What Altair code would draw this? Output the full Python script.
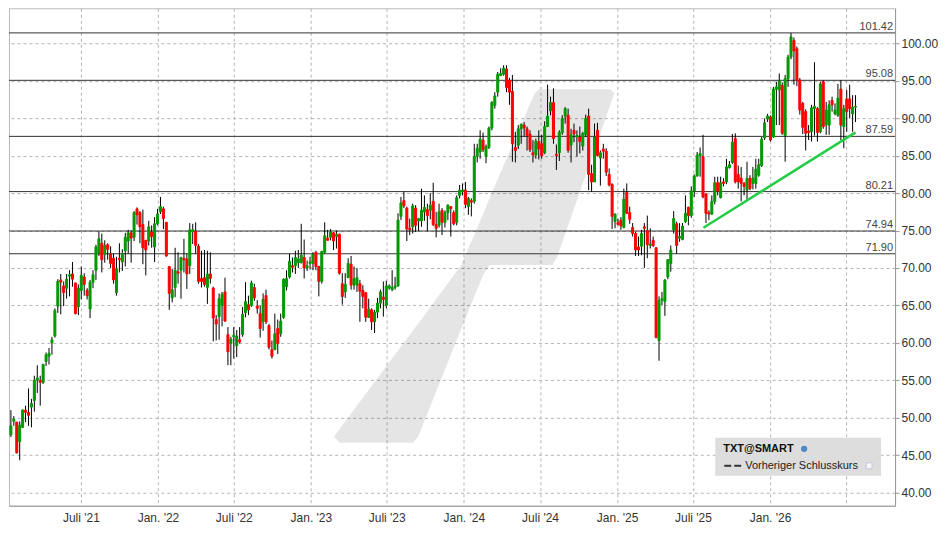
import altair as alt
import pandas as pd
import numpy as np

# ---------------- data (weekly OHLC) ----------------
n_weeks = 290
first_week = "2021-01-08"

opens = [
    48.3, 47.7, 49.5, 49.4, 46.8, 48.7, 51.0, 50.7, 51.4, 52.3,
    55.0, 55.0, 54.7, 57.5, 58.2, 60.0, 60.9, 64.9, 68.4, 67.6,
    67.3, 68.9, 69.2, 68.0, 64.8, 67.0, 68.8, 67.0, 64.5, 68.1,
    69.7, 72.0, 73.3, 71.8, 73.1, 71.9, 71.3, 66.7, 71.3, 70.8,
    72.3, 73.6, 74.7, 74.1, 77.9, 77.4, 75.8, 73.7, 73.6, 74.8,
    72.8, 75.9, 77.5, 77.9, 76.1, 70.2, 66.0, 67.4, 69.5, 69.7,
    71.3, 71.2, 70.3, 74.9, 74.9, 72.9, 68.6, 68.7, 67.4, 69.2,
    67.3, 63.1, 63.5, 65.0, 66.8, 61.1, 59.9, 60.8, 59.6, 60.4,
    61.1, 64.0, 65.1, 65.0, 67.4, 64.9, 63.9, 62.8, 66.3, 62.3,
    59.1, 59.1, 61.9, 61.2, 63.4, 67.5, 68.8, 70.3, 70.3, 70.7,
    70.7, 71.4, 70.0, 70.6, 70.6, 72.1, 70.2, 68.2, 72.1, 74.0,
    74.1, 74.7, 74.2, 74.5, 67.9, 66.8, 68.7, 70.5, 67.7, 67.7,
    67.9, 67.0, 66.7, 63.4, 64.4, 62.8, 64.1, 65.3, 66.1, 65.0,
    67.3, 67.1, 67.4, 67.6, 76.9, 79.0, 78.0, 75.3, 75.5, 78.0,
    76.3, 76.3, 77.5, 77.8, 77.7, 78.9, 75.8, 75.7, 77.7, 76.1,
    77.4, 78.2, 77.4, 76.1, 79.7, 80.2, 80.4, 78.2, 79.0, 78.9,
    84.9, 85.5, 87.1, 84.9, 86.1, 88.7, 91.7, 93.5, 95.7, 95.9,
    96.6, 95.1, 93.6, 86.1, 86.4, 88.6, 89.1, 88.6, 87.9, 85.4,
    85.1, 86.9, 86.6, 85.4, 88.9, 91.0, 92.1, 85.2, 85.4, 88.1,
    90.3, 90.4, 86.4, 88.4, 87.5, 87.5, 86.3, 87.8, 90.3, 82.6,
    81.5, 88.4, 84.7, 85.9, 85.6, 82.5, 81.2, 76.2, 76.1, 76.4,
    75.4, 80.1, 77.4, 75.4, 74.6, 72.8, 72.9, 75.5, 75.0, 73.0,
    73.7, 72.7, 60.3, 65.7, 65.5, 68.8, 70.6, 75.1, 75.9, 74.0,
    73.8, 76.2, 78.1, 77.0, 80.3, 82.3, 85.0, 84.9, 79.9, 77.4,
    77.2, 78.9, 81.4, 79.4, 81.5, 81.5, 83.4, 84.1, 87.3, 82.5,
    82.0, 81.3, 80.4, 82.0, 81.3, 81.3, 82.4, 83.7, 87.4, 89.9,
    90.2, 87.5, 93.9, 93.8, 94.4, 87.7, 95.3, 98.2, 100.4, 99.3,
    95.1, 92.0, 90.9, 88.3, 88.2, 91.3, 91.3, 88.2, 94.9, 89.1,
    89.1, 92.4, 90.6, 90.4, 93.9, 88.9, 92.6, 92.6, 90.6, 91.5,
]
highs = [
    49.0, 51.0, 50.2, 49.4, 49.5, 51.1, 51.6, 53.9, 52.5, 55.6,
    57.0, 55.6, 57.2, 58.7, 59.3, 60.8, 64.6, 68.5, 69.2, 68.2,
    69.2, 69.7, 70.8, 68.0, 67.8, 70.2, 69.3, 67.3, 68.4, 69.7,
    73.1, 74.9, 74.6, 73.7, 73.3, 72.9, 71.9, 71.5, 73.3, 72.5,
    74.7, 75.1, 75.0, 77.6, 78.1, 77.6, 77.8, 73.7, 76.3, 75.7,
    76.8, 77.9, 79.5, 78.2, 76.1, 70.2, 69.9, 72.7, 72.1, 71.5,
    73.9, 71.9, 76.0, 75.9, 76.1, 73.2, 72.3, 72.4, 72.3, 72.1,
    67.5, 63.7, 66.6, 66.8, 68.7, 62.1, 60.8, 62.1, 61.7, 62.1,
    64.8, 68.1, 66.3, 68.3, 67.9, 65.7, 65.0, 66.6, 67.1, 62.5,
    60.3, 63.9, 63.1, 63.9, 68.6, 69.7, 71.9, 71.4, 72.3, 72.4,
    75.9, 73.8, 71.0, 71.5, 72.1, 72.3, 70.3, 72.3, 76.1, 75.1,
    75.2, 74.8, 75.0, 74.6, 69.3, 69.3, 71.3, 71.6, 70.2, 70.0,
    68.4, 67.7, 66.8, 65.9, 64.6, 64.4, 66.0, 67.1, 68.2, 68.3,
    67.8, 69.7, 68.8, 77.3, 79.5, 80.2, 78.2, 76.6, 78.6, 78.4,
    76.7, 80.6, 79.7, 78.6, 80.0, 81.4, 77.5, 78.6, 78.0, 77.7,
    78.5, 78.2, 77.7, 79.7, 81.1, 81.3, 81.5, 79.5, 79.3, 86.6,
    86.6, 88.4, 88.1, 86.5, 88.9, 92.3, 93.5, 96.2, 96.7, 97.1,
    97.1, 95.4, 95.8, 88.2, 89.1, 89.3, 89.5, 88.9, 88.4, 87.1,
    87.3, 88.4, 87.8, 89.6, 94.5, 92.9, 94.0, 86.5, 88.4, 90.4,
    91.5, 91.3, 88.6, 89.3, 88.4, 88.9, 88.2, 90.5, 91.3, 83.8,
    89.3, 89.4, 85.7, 86.6, 86.0, 83.3, 81.3, 77.3, 76.6, 76.8,
    80.6, 81.3, 78.2, 76.0, 74.8, 74.2, 75.1, 76.0, 77.0, 75.3,
    74.2, 72.8, 66.2, 66.8, 68.5, 71.2, 73.0, 77.6, 76.2, 76.0,
    76.0, 79.7, 78.2, 80.9, 82.5, 85.5, 86.1, 87.8, 80.0, 77.7,
    79.7, 82.2, 82.2, 82.2, 82.0, 84.6, 84.3, 87.9, 88.0, 83.7,
    83.5, 81.5, 84.2, 82.4, 83.5, 84.6, 84.6, 87.5, 90.0, 90.6,
    90.4, 94.2, 94.9, 96.0, 94.8, 95.8, 98.5, 101.42, 100.8, 99.6,
    95.4, 92.2, 91.2, 89.1, 91.8, 97.5, 91.5, 94.9, 95.1, 92.2,
    92.4, 92.9, 92.0, 94.6, 95.1, 91.8, 93.8, 94.5, 93.1, 93.1,
]
lows = [
    46.0, 47.4, 48.9, 45.2, 44.3, 48.6, 49.4, 48.9, 48.7, 50.8,
    53.3, 51.6, 54.5, 56.9, 57.1, 58.4, 60.7, 64.0, 63.8, 64.9,
    65.9, 66.2, 67.5, 63.8, 63.7, 65.8, 66.3, 65.8, 63.3, 67.3,
    68.4, 71.6, 69.4, 70.7, 71.1, 70.0, 67.9, 66.3, 69.4, 69.6,
    70.2, 71.9, 70.7, 73.6, 75.8, 73.3, 70.5, 69.0, 73.0, 72.7,
    70.8, 75.7, 77.2, 75.2, 71.5, 64.4, 65.4, 66.1, 67.9, 65.9,
    69.4, 67.2, 69.2, 73.2, 71.9, 67.9, 67.4, 67.5, 65.2, 67.9,
    60.2, 60.3, 60.4, 62.2, 62.8, 57.0, 57.0, 57.9, 58.1, 59.9,
    60.8, 63.4, 63.7, 64.8, 65.6, 63.9, 60.7, 61.6, 62.5, 59.1,
    57.9, 59.0, 58.5, 60.8, 63.2, 67.0, 68.6, 69.4, 69.2, 70.0,
    70.6, 68.6, 69.6, 69.8, 69.7, 69.7, 66.2, 67.9, 71.9, 73.7,
    73.7, 72.4, 72.6, 69.1, 65.1, 66.0, 68.7, 67.1, 67.1, 66.8,
    62.8, 64.6, 62.8, 63.3, 61.7, 61.3, 63.3, 64.6, 63.5, 64.6,
    67.1, 66.9, 67.1, 67.5, 76.4, 78.0, 73.6, 74.4, 74.6, 74.8,
    74.9, 75.5, 76.3, 74.9, 76.5, 75.6, 74.1, 75.4, 74.4, 75.4,
    76.4, 74.2, 75.7, 75.7, 79.3, 79.7, 78.0, 77.1, 76.9, 78.6,
    84.1, 84.6, 85.5, 84.0, 85.9, 88.4, 91.3, 92.9, 95.7, 95.7,
    93.5, 91.8, 84.2, 84.1, 85.9, 86.6, 87.5, 85.7, 85.5, 84.1,
    84.6, 84.5, 84.6, 85.2, 88.9, 90.4, 86.6, 83.1, 84.3, 87.8,
    89.3, 85.4, 84.1, 86.8, 84.9, 85.3, 85.7, 87.5, 80.4, 80.2,
    81.5, 84.9, 81.0, 84.6, 82.3, 80.9, 75.2, 75.3, 75.7, 75.1,
    75.3, 77.2, 75.9, 74.2, 71.6, 71.6, 71.7, 70.0, 71.3, 72.6,
    72.8, 60.6, 57.6, 65.0, 63.6, 68.5, 69.5, 74.6, 71.9, 73.5,
    73.7, 76.0, 75.7, 76.7, 79.5, 82.2, 82.2, 79.3, 76.0, 76.4,
    77.1, 78.5, 79.7, 79.3, 80.9, 81.2, 83.3, 83.9, 81.3, 80.6,
    78.9, 79.7, 79.1, 80.4, 80.5, 80.6, 82.2, 83.5, 87.1, 89.5,
    86.9, 87.4, 89.1, 89.1, 87.8, 84.2, 94.2, 97.9, 94.5, 94.3,
    90.5, 87.9, 85.7, 87.1, 86.9, 87.7, 86.9, 88.0, 88.6, 87.8,
    87.8, 90.9, 90.4, 90.2, 87.1, 86.0, 88.2, 90.0, 88.2, 89.5,
]
closes = [
    48.6, 48.9, 49.8, 45.3, 49.0, 51.0, 50.7, 50.3, 51.9, 55.0,
    55.3, 54.7, 57.1, 58.4, 58.6, 60.4, 64.3, 68.2, 68.1, 66.7,
    68.5, 69.1, 68.5, 63.9, 67.3, 69.0, 67.8, 66.3, 68.1, 69.1,
    72.8, 73.9, 71.1, 73.0, 72.5, 70.6, 68.4, 69.9, 71.1, 71.9,
    74.1, 74.7, 74.0, 77.4, 77.1, 75.5, 72.7, 72.4, 75.5, 74.2,
    75.9, 77.2, 78.2, 76.6, 71.6, 66.6, 67.1, 69.7, 69.3, 71.4,
    71.1, 69.2, 75.1, 75.1, 73.0, 68.2, 68.2, 67.8, 69.2, 68.6,
    63.3, 62.5, 65.9, 66.5, 62.9, 58.8, 60.5, 61.0, 60.9, 60.1,
    63.8, 65.5, 64.4, 68.0, 66.0, 64.6, 61.9, 65.8, 62.8, 59.4,
    58.2, 61.2, 59.9, 62.9, 68.5, 68.6, 70.9, 70.1, 71.4, 71.2,
    71.7, 70.0, 70.3, 70.8, 71.8, 70.2, 68.2, 72.2, 74.3, 73.7,
    74.8, 73.6, 74.5, 69.3, 66.2, 67.8, 70.6, 67.7, 68.6, 68.7,
    66.9, 66.2, 63.4, 64.5, 62.8, 64.1, 65.3, 66.8, 65.8, 67.6,
    67.6, 67.4, 67.6, 76.4, 78.7, 78.3, 75.2, 75.1, 78.3, 75.7,
    76.6, 77.7, 78.1, 77.0, 78.4, 75.8, 75.3, 77.5, 76.1, 77.4,
    78.4, 77.9, 75.9, 79.4, 80.4, 80.4, 78.5, 79.3, 78.8, 84.9,
    86.0, 87.2, 85.8, 86.2, 88.7, 92.1, 93.0, 95.9, 96.0, 96.7,
    94.1, 93.5, 86.6, 85.7, 88.6, 89.2, 88.7, 87.7, 85.8, 85.1,
    86.9, 85.9, 85.0, 88.9, 90.3, 92.1, 87.3, 85.0, 88.1, 90.0,
    91.3, 85.7, 87.8, 87.9, 87.7, 86.9, 88.0, 90.0, 82.5, 81.5,
    87.5, 85.0, 85.4, 85.6, 82.8, 81.1, 76.9, 77.2, 75.8, 75.6,
    79.2, 77.3, 76.5, 74.6, 72.4, 72.4, 74.6, 75.3, 73.1, 73.2,
    73.0, 60.7, 65.7, 65.9, 68.4, 71.1, 72.4, 76.6, 73.0, 74.2,
    75.6, 77.3, 77.0, 80.3, 82.3, 85.1, 85.3, 79.5, 77.3, 77.2,
    78.9, 81.4, 80.3, 81.4, 81.3, 83.5, 83.8, 86.8, 81.5, 81.5,
    81.3, 80.9, 82.0, 80.6, 82.0, 83.2, 83.8, 87.2, 89.4, 90.3,
    87.1, 93.9, 94.2, 95.0, 88.0, 95.3, 98.2, 100.9, 99.0, 95.1,
    91.1, 88.8, 88.0, 88.1, 91.4, 91.6, 88.1, 94.6, 88.9, 91.1,
    91.8, 91.8, 91.1, 92.7, 89.1, 91.3, 90.9, 91.3, 91.5, 91.6,
]

# horizontal support / resistance levels
level_values = [101.42, 95.08, 87.59, 80.21, 74.94, 71.90]

# green trend line
trend_dates = ["2025-07-26", "2026-07-24"]
trend_prices = [75.38, 88.12]

# faint watermark logo outline, as vertical slices (date, lower price, upper price)
wm_dates = ["2023-02-25", "2023-03-11", "2023-09-02", "2023-09-14", "2023-12-26",
            "2024-02-16", "2024-03-03", "2024-06-18", "2024-06-29", "2024-07-30",
            "2024-08-10", "2024-12-16", "2024-12-25"]
wm_lower = [47.44, 46.64, 46.64, 47.44, 61.86, 69.07, 70.40, 70.40, 70.40, 70.40,
            71.33, 91.84, 93.36]
wm_upper = [47.44, 48.50, 61.68, 62.56, 70.40, 77.22, 79.40, 93.36, 93.90, 93.90,
            93.90, 93.90, 93.36]

# x-axis tick dates (last one has no label)
tick_dates = ["2021-07-01", "2022-01-01", "2022-07-01", "2023-01-01",
              "2023-07-01", "2024-01-01", "2024-07-01", "2025-01-01",
              "2025-07-01", "2026-01-01", "2026-07-01"]
y_ticks = [40, 45, 50, 55, 60, 65, 70, 75, 80, 85, 90, 95, 100]

# ---------------- build tables ----------------
assert len(opens) == len(highs) == len(lows) == len(closes) == n_weeks
dates = pd.date_range(first_week, periods=n_weeks, freq="7D").strftime("%Y-%m-%d").tolist()
df = pd.DataFrame({"date": dates, "open": opens, "high": highs,
                   "low": lows, "close": closes})
df["dir"] = np.where(df["close"] >= df["open"], "up", "down")

levels_df = pd.DataFrame({"level": level_values})
trend_df = pd.DataFrame({"date": trend_dates, "price": trend_prices})
wm_df = pd.DataFrame({"d": wm_dates, "lo": wm_lower, "hi": wm_upper})


def ms(s):
    return int(pd.Timestamp(s, tz="UTC").value // 10**6)


base = pd.Timestamp("2021-07-01", tz="UTC")
x_lo = int((base - pd.Timedelta(days=159.6)).value // 10**6)
x_hi = int((base + pd.Timedelta(days=1931.4)).value // 10**6)
tick_vals = [ms(d) for d in tick_dates]
cutoff = ms("2026-03-01")

FONT = "Liberation Sans"
xscale = alt.Scale(type="utc", domain=[x_lo, x_hi], nice=False)
yscale = alt.Scale(domain=[38.22, 104.71], nice=False, zero=False)

label_expr = ("datum.value > %d ? '' : (utcmonth(datum.value) == 0 ? 'Jan. ' : 'Juli ') "
              "+ \"'\" + utcFormat(datum.value, '%%y')" % cutoff)

xaxis = alt.Axis(values=tick_vals, labelExpr=label_expr, grid=True, gridDash=[3, 3],
                 gridColor="#b4b4b4", ticks=False, domainColor="#999999",
                 labelFontSize=12, labelFont=FONT, labelColor="#333333",
                 labelPadding=7, title=None, labelFlush=False, labelOverlap=False)
yaxis = alt.Axis(orient="right", values=y_ticks, format=".2f", grid=True,
                 gridDash=[3, 3], gridColor="#b4b4b4", tickSize=4,
                 tickColor="#999999", domainColor="#999999", labelFontSize=12,
                 labelFont=FONT, labelColor="#333333", labelPadding=2, title=None,
                 labelOverlap=False)


def X(field):
    return alt.X(field, scale=xscale, axis=xaxis)


def Y(field):
    return alt.Y(field, scale=yscale, axis=yaxis)


col_scale = alt.Scale(domain=["up", "down"], range=["#009900", "#ff0000"])

watermark = alt.Chart(wm_df).mark_area(color="black", opacity=0.1,
                                       interpolate="linear", clip=True).encode(
    x=X("d:T"), y=Y("lo:Q"), y2="hi:Q")

levels = alt.Chart(levels_df).mark_rule(color="#333333", strokeWidth=1).encode(
    y=Y("level:Q"))

level_labels = alt.Chart(levels_df).mark_text(
    align="right", baseline="alphabetic", dy=-3, fontSize=11, font=FONT,
    color="#444444").encode(
    x=alt.value(885), y=Y("level:Q"), text=alt.Text("level:Q", format=".2f"))

wicks = alt.Chart(df).mark_rule(color="black", strokeWidth=1, clip=True).encode(
    x=X("date:T"), y=Y("low:Q"), y2="high:Q")

bodies = alt.Chart(df).mark_bar(size=2, strokeWidth=1, clip=True).encode(
    x=X("date:T"), y=Y("open:Q"), y2="close:Q",
    color=alt.Color("dir:N", scale=col_scale, legend=None),
    stroke=alt.Stroke("dir:N", scale=col_scale, legend=None))

trend = alt.Chart(trend_df).mark_line(color="#22cc44", strokeWidth=2.5, clip=True).encode(
    x=X("date:T"), y=Y("price:Q"))

one = pd.DataFrame({"k": [0]})
leg_box = alt.Chart(one).mark_rect(color="#dddddd").encode(
    x=alt.value(707), x2=alt.value(873), y=alt.value(430), y2=alt.value(468))
leg_title = alt.Chart(one).mark_text(align="left", baseline="middle", fontSize=11,
                                     font=FONT, fontWeight="bold", color="#111111").encode(
    x=alt.value(715), y=alt.value(441), text=alt.value("TXT@SMART"))
leg_icon = alt.Chart(one).mark_point(filled=True, shape="circle", size=40,
                                     color="#4f86c6", opacity=1).encode(
    x=alt.value(796), y=alt.value(441))
leg_dash1 = alt.Chart(one).mark_rule(color="#333333", strokeWidth=2).encode(
    x=alt.value(716), x2=alt.value(723), y=alt.value(458))
leg_dash2 = alt.Chart(one).mark_rule(color="#333333", strokeWidth=2).encode(
    x=alt.value(726), x2=alt.value(733), y=alt.value(458))
leg_text = alt.Chart(one).mark_text(align="left", baseline="middle", fontSize=11,
                                    font=FONT, color="#222222").encode(
    x=alt.value(737), y=alt.value(458), text=alt.value("Vorheriger Schlusskurs"))
leg_sq = alt.Chart(one).mark_rect(fill="#f4f4fa", stroke="#c8c8d8", strokeWidth=1).encode(
    x=alt.value(858), x2=alt.value(864), y=alt.value(455), y2=alt.value(461))

chart = alt.layer(
    watermark, levels, level_labels, wicks, bodies, trend,
    leg_box, leg_title, leg_icon, leg_dash1, leg_dash2, leg_text, leg_sq
).properties(
    width=887, height=498,
    padding={"left": 0, "top": 0, "right": 2, "bottom": 0},
    background="white",
).configure_view(stroke="#bbbbbb", strokeWidth=1)

chart.save("out.html", embed_options={"renderer": "svg", "actions": False})
